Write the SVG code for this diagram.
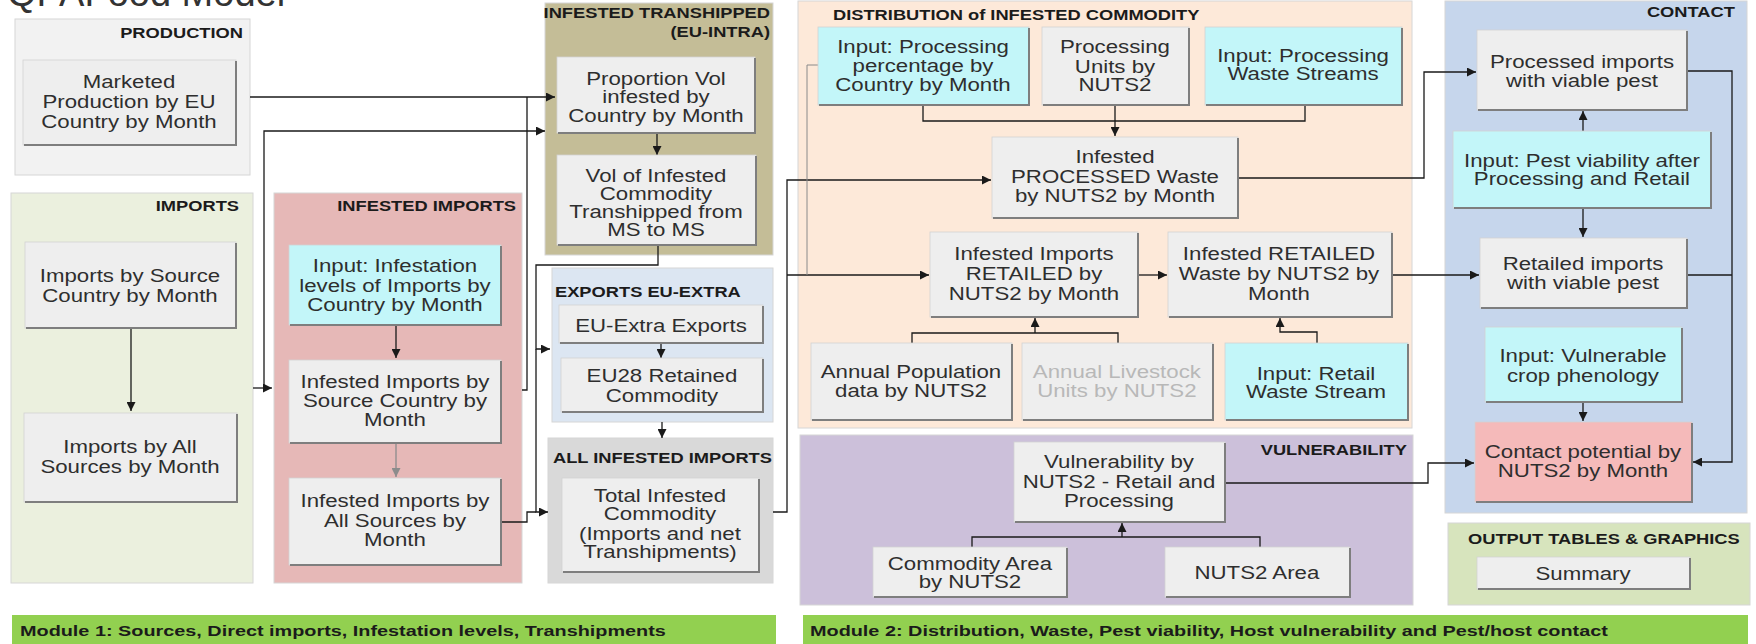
<svg xmlns="http://www.w3.org/2000/svg" width="1756" height="644" viewBox="0 0 1756 644">
<style>
  text { font-family: "Liberation Sans", Arial, sans-serif; fill: #2e2e2e; }
  .t { font-size: 17.5px; text-anchor: middle; transform-box: fill-box; transform-origin: 50% 50%; transform: scaleX(1.27); }
  .h { font-size: 15.5px; font-weight: bold; fill: #1b1b1b; transform-box: fill-box; transform: scaleX(1.18); }
  .hr { text-anchor: end; transform-origin: 100% 50%; }
  .hl { text-anchor: start; transform-origin: 0% 50%; }
  .mod { font-size: 15.5px; font-weight: bold; fill: #1b1b1b; text-anchor: start; transform-box: fill-box; transform-origin: 0% 50%; transform: scaleX(1.28); }
  .grp { stroke: #d6d6d6; stroke-width: 1; }
  .box { fill: #eeeeee; stroke: #d2d2d2; stroke-width: 0.8; }
  .inp { fill: #c3f6f9; }
  .pink { fill: #f5baba; }
  .shd { fill: none; stroke: #7e7e7e; stroke-width: 2; }
  .c { fill: none; stroke: #1a1a1a; stroke-width: 1.3; }
  .a { marker-end: url(#ah); }
  .thin { fill: none; stroke: #8a8a8a; stroke-width: 1; }
  .dim { fill: #b8b8b8; }
</style>
<defs>
  <marker id="ah" viewBox="0 0 10 10" refX="10" refY="5" markerWidth="9" markerHeight="9" markerUnits="userSpaceOnUse" orient="auto">
    <path d="M0,0 L10,5 L0,10 z" fill="#1a1a1a"/>
  </marker>
  <marker id="ahg" viewBox="0 0 10 10" refX="10" refY="5" markerWidth="9" markerHeight="9" markerUnits="userSpaceOnUse" orient="auto">
    <path d="M0,0 L10,5 L0,10 z" fill="#8c8c8c"/>
  </marker>
</defs>

<rect width="1756" height="644" fill="#ffffff"/>

<!-- title, clipped by the top edge -->
<text x="7" y="6" style="font-size:38px;fill:#333">QPAFood Model</text>

<!-- ===== group panels ===== -->
<g id="panel-production">
  <rect class="grp" x="15" y="19" width="235" height="156" fill="#f2f2f2"/>
  <text class="h hr" x="243" y="38">PRODUCTION</text>
</g>
<g id="panel-imports">
  <rect class="grp" x="11" y="193" width="242" height="390" fill="#ebf0de"/>
  <text class="h hr" x="239" y="211">IMPORTS</text>
</g>
<g id="panel-infested-imports">
  <rect class="grp" x="274" y="193" width="248" height="390" fill="#e6b8b7"/>
  <text class="h hr" x="516" y="211">INFESTED IMPORTS</text>
</g>
<g id="panel-transhipped">
  <rect class="grp" x="545" y="3" width="228" height="252" fill="#c4bd97"/>
  <text class="h hr" x="770" y="18">INFESTED TRANSHIPPED</text>
  <text class="h hr" x="770" y="37">(EU-INTRA)</text>
</g>
<g id="panel-exports">
  <rect class="grp" x="552" y="268" width="221" height="154" fill="#dce6f2"/>
  <text class="h hl" x="555" y="297">EXPORTS EU-EXTRA</text>
</g>
<g id="panel-all-infested">
  <rect class="grp" x="548" y="438" width="225" height="145" fill="#d9d9d9"/>
  <text class="h hl" x="553" y="463">ALL INFESTED IMPORTS</text>
</g>
<g id="panel-distribution">
  <rect class="grp" x="798" y="1" width="614" height="427" fill="#fde9d9"/>
  <text class="h hl" x="833" y="20">DISTRIBUTION of INFESTED COMMODITY</text>
</g>
<g id="panel-vulnerability">
  <rect class="grp" x="800" y="435" width="613" height="170" fill="#ccc0da"/>
  <text class="h hr" x="1407" y="455">VULNERABILITY</text>
</g>
<g id="panel-contact">
  <rect class="grp" x="1445" y="1" width="302" height="512" fill="#c6d6ec"/>
  <text class="h hr" x="1735" y="17">CONTACT</text>
</g>
<g id="panel-output">
  <rect class="grp" x="1448" y="523" width="302" height="82" fill="#d7e4bd"/>
  <text class="h hl" x="1468" y="544">OUTPUT TABLES &amp; GRAPHICS</text>
</g>

<!-- ===== connectors ===== -->
<g id="connectors">
  <path class="c a" d="M250,97 H555"/>
  <path class="c" d="M522,390 H527 V97"/>
  <path class="c a" d="M253,388 H272"/>
  <path class="c a" d="M264,388 V131 H545"/>
  <path class="c a" d="M658,245 V265 H536 V349 H550"/>
  <path class="c a" d="M536,349 V512 H548"/>
  <path class="c" d="M501,522 H527 V512 H536"/>
  <path class="c a" d="M131,328 V411"/>
  <path class="c a" d="M396,325 V358"/>
  <path fill="none" stroke="#8c8c8c" stroke-width="1.3" marker-end="url(#ahg)" d="M396,443 V477"/>
  <path class="c a" d="M657,133 V155"/>
  <path class="c a" d="M661,343 V358"/>
  <path class="c a" d="M662,422 V438"/>
  <path class="c a" d="M773,512 H787 V180 H991"/>
  <path class="c a" d="M787,275 H929"/>
  <path class="thin" d="M818,65 H807 V275"/>
  <path class="c" d="M923,105 V121 H1305 V105"/>
  <path class="c a" d="M1115,105 V136"/>
  <path class="c a" d="M1138,275 H1167"/>
  <path class="c" d="M912,345 V333 H1118 V345"/>
  <path class="c a" d="M1035,333 V318"/>
  <path class="c a" d="M1317,343 V332 H1280 V318"/>
  <path class="c a" d="M1238,178 H1424 V72 H1476"/>
  <path class="c a" d="M1392,275 H1479"/>
  <path class="c a" d="M1583,131 V111"/>
  <path class="c a" d="M1583,208 V237"/>
  <path class="c a" d="M1687,71 H1732 V462 H1693"/>
  <path class="c" d="M1687,275 H1732"/>
  <path class="c a" d="M1583,402 V421"/>
  <path class="c a" d="M1225,483 H1428 V463 H1474"/>
  <path class="c" d="M972,548 V537 H1260 V548"/>
  <path class="c a" d="M1122,537 V523"/>
</g>

<!-- ===== nodes ===== -->
<g id="marketed-production">
  <rect class="box" x="23" y="60" width="213" height="85"/>
  <path class="shd" d="M236,61 V145 H24"/>
  <text class="t"><tspan x="129" y="88">Marketed</tspan><tspan x="129" y="108">Production by EU</tspan><tspan x="129" y="128">Country by Month</tspan></text>
</g>
<g id="imports-by-source">
  <rect class="box" x="25" y="242" width="211" height="86"/>
  <path class="shd" d="M236,243 V328 H26"/>
  <text class="t"><tspan x="130" y="282">Imports by Source</tspan><tspan x="130" y="302">Country by Month</tspan></text>
</g>
<g id="imports-all-sources">
  <rect class="box" x="24" y="413" width="213" height="89"/>
  <path class="shd" d="M237,414 V502 H25"/>
  <text class="t"><tspan x="130" y="453">Imports by All</tspan><tspan x="130" y="473">Sources by Month</tspan></text>
</g>
<g id="input-infestation-levels">
  <rect class="box inp" x="289" y="245" width="212" height="80"/>
  <path class="shd" d="M501,246 V325 H290"/>
  <text class="t"><tspan x="395" y="272">Input: Infestation</tspan><tspan x="395" y="292">levels of Imports by</tspan><tspan x="395" y="311">Country by Month</tspan></text>
</g>
<g id="infested-by-source">
  <rect class="box" x="289" y="360" width="212" height="83"/>
  <path class="shd" d="M501,361 V443 H290"/>
  <text class="t"><tspan x="395" y="388">Infested Imports by</tspan><tspan x="395" y="407">Source Country by</tspan><tspan x="395" y="426">Month</tspan></text>
</g>
<g id="infested-all-sources">
  <rect class="box" x="289" y="478" width="212" height="87"/>
  <path class="shd" d="M501,479 V565 H290"/>
  <text class="t"><tspan x="395" y="507">Infested Imports by</tspan><tspan x="395" y="527">All Sources by</tspan><tspan x="395" y="546">Month</tspan></text>
</g>
<g id="proportion-vol">
  <rect class="box" x="557" y="57" width="198" height="76"/>
  <path class="shd" d="M755,58 V133 H558"/>
  <text class="t"><tspan x="656" y="85">Proportion Vol</tspan><tspan x="656" y="103">infested by</tspan><tspan x="656" y="122">Country by Month</tspan></text>
</g>
<g id="vol-transhipped">
  <rect class="box" x="557" y="155" width="199" height="90"/>
  <path class="shd" d="M756,156 V245 H558"/>
  <text class="t"><tspan x="656" y="182">Vol of Infested</tspan><tspan x="656" y="200">Commodity</tspan><tspan x="656" y="218">Transhipped from</tspan><tspan x="656" y="236">MS to MS</tspan></text>
</g>
<g id="eu-extra-exports">
  <rect class="box" x="559" y="305" width="204" height="38"/>
  <path class="shd" d="M763,306 V343 H560"/>
  <text class="t"><tspan x="661" y="332">EU-Extra Exports</tspan></text>
</g>
<g id="eu28-retained">
  <rect class="box" x="561" y="358" width="202" height="54"/>
  <path class="shd" d="M763,359 V412 H562"/>
  <text class="t"><tspan x="662" y="382">EU28 Retained</tspan><tspan x="662" y="402">Commodity</tspan></text>
</g>
<g id="total-infested">
  <rect class="box" x="562" y="478" width="197" height="94"/>
  <path class="shd" d="M759,479 V572 H563"/>
  <text class="t"><tspan x="660" y="502">Total Infested</tspan><tspan x="660" y="520">Commodity</tspan><tspan x="660" y="540">(Imports and net</tspan><tspan x="660" y="558">Transhipments)</tspan></text>
</g>
<g id="input-processing-pct">
  <rect class="box inp" x="818" y="27" width="211" height="78"/>
  <path class="shd" d="M1029,28 V105 H819"/>
  <text class="t"><tspan x="923" y="53">Input: Processing</tspan><tspan x="923" y="72">percentage by</tspan><tspan x="923" y="91">Country by Month</tspan></text>
</g>
<g id="processing-units">
  <rect class="box" x="1042" y="27" width="147" height="78"/>
  <path class="shd" d="M1189,28 V105 H1043"/>
  <text class="t"><tspan x="1115" y="53">Processing</tspan><tspan x="1115" y="73">Units by</tspan><tspan x="1115" y="91">NUTS2</tspan></text>
</g>
<g id="input-processing-waste">
  <rect class="box inp" x="1205" y="27" width="197" height="78"/>
  <path class="shd" d="M1402,28 V105 H1206"/>
  <text class="t"><tspan x="1303" y="62">Input: Processing</tspan><tspan x="1303" y="80">Waste Streams</tspan></text>
</g>
<g id="processed-waste">
  <rect class="box" x="992" y="137" width="246" height="81"/>
  <path class="shd" d="M1238,138 V218 H993"/>
  <text class="t"><tspan x="1115" y="163">Infested</tspan><tspan x="1115" y="183">PROCESSED Waste</tspan><tspan x="1115" y="202">by NUTS2 by Month</tspan></text>
</g>
<g id="retailed">
  <rect class="box" x="930" y="232" width="208" height="85"/>
  <path class="shd" d="M1138,233 V317 H931"/>
  <text class="t"><tspan x="1034" y="260">Infested Imports</tspan><tspan x="1034" y="280">RETAILED by</tspan><tspan x="1034" y="300">NUTS2 by Month</tspan></text>
</g>
<g id="retailed-waste">
  <rect class="box" x="1168" y="232" width="224" height="85"/>
  <path class="shd" d="M1392,233 V317 H1169"/>
  <text class="t"><tspan x="1279" y="260">Infested RETAILED</tspan><tspan x="1279" y="280">Waste by NUTS2 by</tspan><tspan x="1279" y="300">Month</tspan></text>
</g>
<g id="population">
  <rect class="box" x="811" y="343" width="201" height="77"/>
  <path class="shd" d="M1012,344 V420 H812"/>
  <text class="t"><tspan x="911" y="378">Annual Population</tspan><tspan x="911" y="397">data by NUTS2</tspan></text>
</g>
<g id="livestock">
  <rect class="box" x="1022" y="343" width="191" height="77"/>
  <path class="shd" d="M1213,344 V420 H1023"/>
  <text class="t dim"><tspan x="1117" y="378">Annual Livestock</tspan><tspan x="1117" y="397">Units by NUTS2</tspan></text>
</g>
<g id="input-retail-waste">
  <rect class="box inp" x="1225" y="343" width="183" height="77"/>
  <path class="shd" d="M1408,344 V420 H1226"/>
  <text class="t"><tspan x="1316" y="380">Input: Retail</tspan><tspan x="1316" y="398">Waste Stream</tspan></text>
</g>
<g id="vulnerability">
  <rect class="box" x="1014" y="442" width="211" height="80"/>
  <path class="shd" d="M1225,443 V522 H1015"/>
  <text class="t"><tspan x="1119" y="468">Vulnerability by</tspan><tspan x="1119" y="488">NUTS2 - Retail and</tspan><tspan x="1119" y="507">Processing</tspan></text>
</g>
<g id="commodity-area">
  <rect class="box" x="873" y="547" width="194" height="50"/>
  <path class="shd" d="M1067,548 V597 H874"/>
  <text class="t"><tspan x="970" y="570">Commodity Area</tspan><tspan x="970" y="588">by NUTS2</tspan></text>
</g>
<g id="nuts2-area">
  <rect class="box" x="1165" y="547" width="185" height="50"/>
  <path class="shd" d="M1350,548 V597 H1166"/>
  <text class="t"><tspan x="1257" y="579">NUTS2 Area</tspan></text>
</g>
<g id="processed-viable">
  <rect class="box" x="1477" y="30" width="210" height="80"/>
  <path class="shd" d="M1687,31 V110 H1478"/>
  <text class="t"><tspan x="1582" y="68">Processed imports</tspan><tspan x="1582" y="87">with viable pest</tspan></text>
</g>
<g id="input-pest-viability">
  <rect class="box inp" x="1453" y="131" width="258" height="77"/>
  <path class="shd" d="M1711,132 V208 H1454"/>
  <text class="t"><tspan x="1582" y="167">Input: Pest viability after</tspan><tspan x="1582" y="185">Processing and Retail</tspan></text>
</g>
<g id="retailed-viable">
  <rect class="box" x="1480" y="238" width="207" height="70"/>
  <path class="shd" d="M1687,239 V308 H1481"/>
  <text class="t"><tspan x="1583" y="270">Retailed imports</tspan><tspan x="1583" y="289">with viable pest</tspan></text>
</g>
<g id="input-phenology">
  <rect class="box inp" x="1485" y="327" width="197" height="75"/>
  <path class="shd" d="M1682,328 V402 H1486"/>
  <text class="t"><tspan x="1583" y="362">Input: Vulnerable</tspan><tspan x="1583" y="382">crop phenology</tspan></text>
</g>
<g id="contact-potential">
  <rect class="box pink" x="1475" y="422" width="217" height="80"/>
  <path class="shd" d="M1692,423 V502 H1476"/>
  <text class="t"><tspan x="1583" y="458">Contact potential by</tspan><tspan x="1583" y="477">NUTS2 by Month</tspan></text>
</g>
<g id="summary">
  <rect class="box" x="1477" y="557" width="213" height="32"/>
  <path class="shd" d="M1690,558 V589 H1478"/>
  <text class="t"><tspan x="1583" y="580">Summary</tspan></text>
</g>

<!-- ===== module banners ===== -->
<g id="module-1">
  <rect x="12" y="615" width="764" height="29" fill="#92d050"/>
  <text class="mod" x="20" y="636">Module 1: Sources, Direct imports, Infestation levels, Transhipments</text>
</g>
<g id="module-2">
  <rect x="803" y="615" width="945" height="29" fill="#92d050"/>
  <text class="mod" x="810" y="636">Module 2: Distribution, Waste, Pest viability, Host vulnerability and Pest/host contact</text>
</g>
</svg>
